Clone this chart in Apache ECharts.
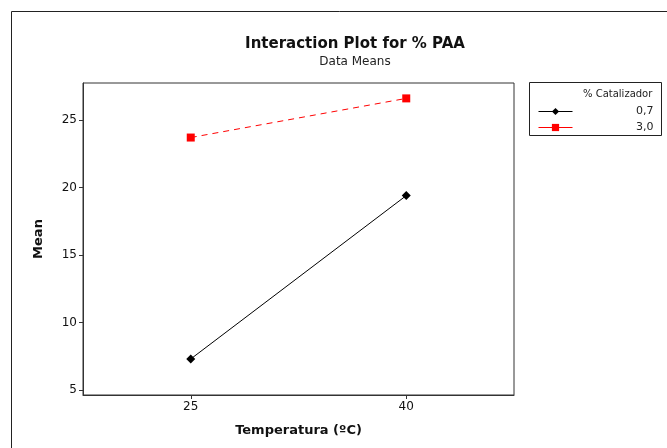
<!DOCTYPE html>
<html>
<head>
<meta charset="utf-8">
<script src="https://cdn.jsdelivr.net/npm/echarts@6/dist/echarts.min.js"></script>
<style>
  html, body { margin: 0; padding: 0; background: #fff; }
  #chart { width: 667px; height: 448px; }
</style>
</head>
<body>
<div id="chart"></div>
<script>
// data
const temperaturas = [25, 40]
const media07 = [7.3, 19.4]
const media30 = [23.7, 26.6]
const xTicks = [25, 40]
const yTicks = [5, 10, 15, 20, 25]
const seriesNames = ['0,7', '3,0']

const font = 'DejaVu Sans'
const chart = echarts.init(document.getElementById('chart'))

const toPairs = (xs, ys) => xs.map((x, i) => [x, ys[i]])

chart.setOption({
  animation: false,
  title: [{
    text: 'Interaction Plot for % PAA',
    subtext: 'Data Means',
    left: 350,
    textAlign: 'center',
    top: 32,
    itemGap: 4,
    textStyle: { fontFamily: font, fontSize: 15, fontWeight: 'bold', color: '#111' },
    subtextStyle: { fontFamily: font, fontSize: 12, color: '#222' }
  }, {
    text: '% Catalizador',
    left: 578,
    top: 84,
    textStyle: { fontFamily: font, fontSize: 10, fontWeight: 'normal', color: '#222' }
  }],
  graphic: [{
    type: 'rect',
    shape: { x: 11.5, y: 11.5, width: 700, height: 500 },
    style: { fill: 'none', stroke: '#222', lineWidth: 1 },
    silent: true
  }, {
    type: 'rect',
    shape: { x: 529.5, y: 82.5, width: 132, height: 53 },
    style: { fill: 'none', stroke: '#222', lineWidth: 1 },
    silent: true
  }],
  legend: {
    orient: 'vertical',
    left: 533,
    top: 101,
    itemGap: 5,
    itemWidth: 34,
    itemHeight: 9,
    data: seriesNames,
    lineStyle: { width: 1, type: 'solid' },
    formatter: (name) => '{v|' + name + '}',
    textStyle: {
      fontFamily: font,
      fontSize: 11,
      color: '#222',
      rich: { v: { width: 76, align: 'right', fontFamily: font, fontSize: 11 } }
    }
  },
  grid: {
    left: 83,
    top: 83,
    right: 153,
    bottom: 53,
    show: true,
    borderColor: '#333',
    borderWidth: 1
  },
  xAxis: {
    type: 'value',
    min: 17.5,
    max: 47.5,
    name: 'Temperatura (ºC)',
    nameLocation: 'middle',
    nameGap: 29,
    nameTextStyle: { fontFamily: font, fontSize: 13, fontWeight: 'bold', color: '#111' },
    splitLine: { show: false },
    axisLine: { show: true, lineStyle: { color: '#333' } },
    axisTick: { show: true, length: 4, customValues: xTicks, lineStyle: { color: '#333' } },
    axisLabel: { customValues: xTicks, fontFamily: font, fontSize: 12, color: '#111', margin: 6 }
  },
  yAxis: {
    type: 'value',
    min: 4.63,
    max: 27.74,
    name: 'Mean',
    nameLocation: 'middle',
    nameRotate: 90,
    nameGap: 38,
    nameTextStyle: { fontFamily: font, fontSize: 13, fontWeight: 'bold', color: '#111' },
    splitLine: { show: false },
    axisLine: { show: true, lineStyle: { color: '#333' } },
    axisTick: { show: true, length: 4, customValues: yTicks, lineStyle: { color: '#333' } },
    axisLabel: { customValues: yTicks, fontFamily: font, fontSize: 12, color: '#111', margin: 6 }
  },
  series: [{
    name: seriesNames[0],
    type: 'line',
    data: toPairs(temperaturas, media07),
    symbol: 'diamond',
    symbolSize: 9,
    itemStyle: { color: '#000' },
    lineStyle: { color: '#000', width: 1 }
  }, {
    name: seriesNames[1],
    type: 'line',
    data: toPairs(temperaturas, media30),
    symbol: 'rect',
    symbolSize: 8,
    itemStyle: { color: '#ff0000' },
    lineStyle: { color: '#ff0000', width: 1, type: [6, 5] }
  }]
})
</script>
</body>
</html>
